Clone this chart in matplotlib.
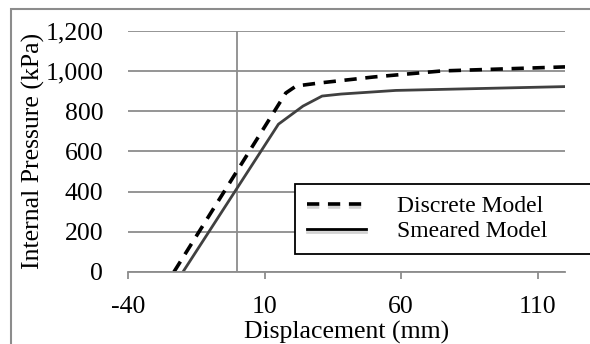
import matplotlib
matplotlib.use('Agg')
import matplotlib.pyplot as plt
import matplotlib.patheffects as pe
from matplotlib.patches import Rectangle
from matplotlib.ticker import FuncFormatter

plt.rcParams['font.family'] = ['Liberation Serif', 'DejaVu Serif']
plt.rcParams['axes.unicode_minus'] = False

# Data
disc_x = [-23.3, 17.7, 21.5, 30, 50, 75, 120]
disc_y = [0, 890, 925, 940, 970, 1000, 1020]
smear_x = [-20, 15, 24, 31, 38, 58, 120]
smear_y = [0, 735, 825, 875, 885, 903, 922]
xticks = [-40, 10, 60, 110]
yticks = [0, 200, 400, 600, 800, 1000, 1200]

grid_c = '#8c8c8c'

fig = plt.figure(figsize=(5.9, 3.44), dpi=100)
ax = fig.add_axes([128.3/590, 1-272/344, (565-128.3)/590, (272-30.7)/344])

# chart area border
fig.patches.append(Rectangle((11/590, -0.1), 1.2, 1-9/344+0.1, transform=fig.transFigure,
                             fill=False, edgecolor='#8c8c8c', linewidth=1.5))

ax.plot(disc_x, disc_y, color='black', linewidth=2.6, dashes=(3.4, 2.4), label='Discrete Model')
ax.plot(smear_x, smear_y, color='#404040', linewidth=2.0, label='Smeared Model')

ax.set_xlim(-40, 120)
ax.set_ylim(0, 1200)
ax.set_xticks(xticks)
ax.set_yticks(yticks)
ax.yaxis.set_major_formatter(FuncFormatter(lambda v, p: '{:,.0f}'.format(v)))
ax.grid(axis='y', color=grid_c, linewidth=1.3)
ax.axvline(0, color=grid_c, linewidth=1.3, zorder=1)
ax.set_axisbelow(True)

for s in ['left', 'top', 'right']:
    ax.spines[s].set_visible(False)
ax.spines['bottom'].set_color(grid_c)
ax.spines['bottom'].set_linewidth(1.3)
ax.tick_params(axis='y', length=0, pad=18, labelsize=18.5)
ax.tick_params(axis='x', length=5, width=1.3, color=grid_c, pad=12, labelsize=18.5)

ax.set_xlabel('Displacement (mm)', fontsize=18.5, labelpad=2.5)
ax.set_ylabel('Internal Pressure (kPa)', fontsize=18.5, labelpad=0)

leg = ax.legend(loc='upper left', bbox_to_anchor=(295/590, 1-255/344, 320/590, 71/344),
                bbox_transform=fig.transFigure, mode='expand', fontsize=17,
                frameon=True, fancybox=False, edgecolor='black', framealpha=1,
                handlelength=2.5, handletextpad=1.3, borderpad=0.5, labelspacing=0.15,
                borderaxespad=0)
leg.get_frame().set_linewidth(1.3)
for ln in leg.get_lines():
    ln.set_color('black')
    ln.set_path_effects([pe.SimpleLineShadow(offset=(0, -2), shadow_color='gray', alpha=0.35),
                         pe.Normal()])

fig.savefig('out.png', dpi=100)
